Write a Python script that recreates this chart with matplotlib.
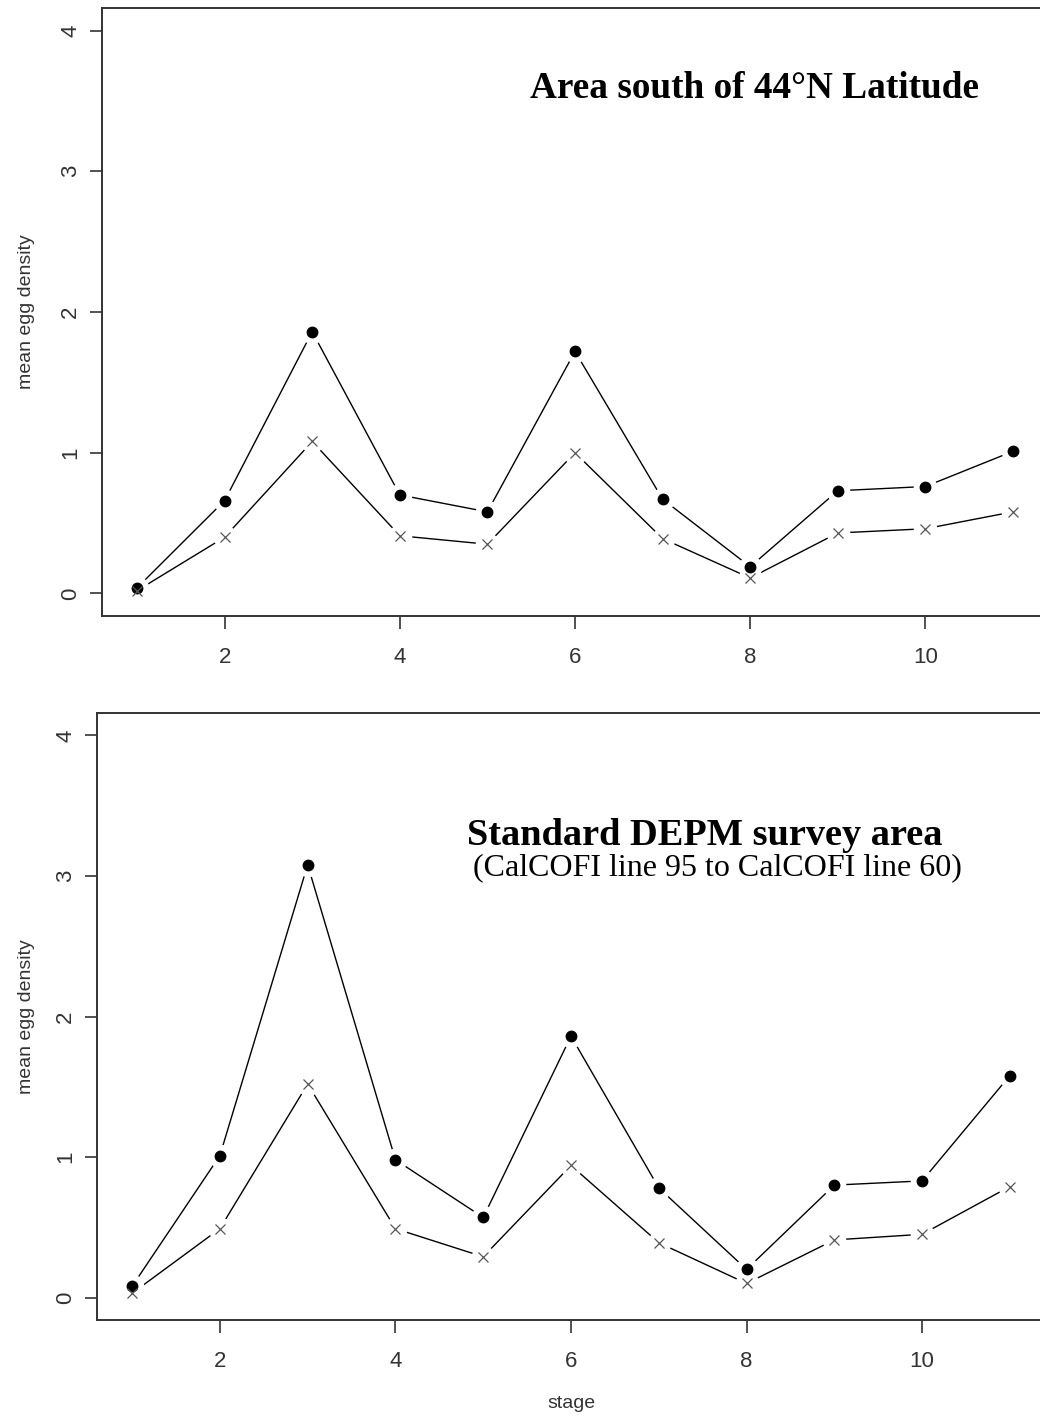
import matplotlib
matplotlib.use("Agg")
import matplotlib.pyplot as plt

stages = [1, 2, 3, 4, 5, 6, 7, 8, 9, 10, 11]
# Top panel: Area south of 44N
north_dots = [0.04, 0.66, 1.86, 0.70, 0.58, 1.72, 0.67, 0.19, 0.73, 0.76, 1.01]
north_x = [0.02, 0.40, 1.08, 0.41, 0.35, 1.00, 0.39, 0.11, 0.43, 0.46, 0.58]
# Bottom panel: Standard DEPM survey area
std_dots = [0.08, 1.01, 3.08, 0.98, 0.57, 1.86, 0.78, 0.20, 0.80, 0.83, 1.58]
std_x = [0.03, 0.49, 1.52, 0.49, 0.29, 0.94, 0.39, 0.10, 0.41, 0.45, 0.79]

xticks = [2, 4, 6, 8, 10]
yticks = [0, 1, 2, 3, 4]

W, H = 1040, 1421
fig = plt.figure(figsize=(W / 100, H / 100), dpi=100)

sans = "Liberation Sans"
serif = "Liberation Serif"
axcol = "#333333"
txtcol = "#333333"


def panel(rect, dots, xs):
    l, t, r, b = rect
    ax = fig.add_axes([l / W, 1 - b / H, (r - l) / W, (b - t) / H])
    ax.plot(stages, dots, color="black", lw=1.0, zorder=2)
    ax.plot(stages, xs, color="black", lw=1.0, zorder=2)
    ax.plot(stages, dots, ls="none", marker="o", ms=17, mfc="white", mec="none", zorder=3)
    ax.plot(stages, xs, ls="none", marker="o", ms=17, mfc="white", mec="none", zorder=3)
    ax.plot(stages, dots, ls="none", marker="o", ms=7.5, mfc="black", mec="black", zorder=4)
    ax.plot(stages, xs, ls="none", marker="x", ms=7, mec="#555555", mew=0.9, zorder=4)
    ax.set_xlim(0.6, 11.4)
    ax.set_ylim(-0.16, 4.16)
    ax.set_xticks(xticks)
    ax.set_yticks(yticks)
    ax.set_xticklabels([str(v) for v in xticks], fontsize=16, family=sans, color=txtcol)
    ax.set_yticklabels([str(v) for v in yticks], fontsize=16, family=sans, color=txtcol,
                       rotation=90, va="center")
    ax.tick_params(axis="x", length=9, width=1.2, color=axcol, pad=13)
    ax.tick_params(axis="y", length=9, width=1.2, color=axcol, pad=6)
    for s in ax.spines.values():
        s.set_linewidth(1.4)
        s.set_color(axcol)
    ax.set_ylabel("mean egg density", fontsize=14, family=sans, color=txtcol)
    ax.yaxis.set_label_coords(-(l - 35) / (r - l), 0.5)
    return ax


ax1 = panel((102, 8, 1048, 616), north_dots, north_x)
ax2 = panel((97, 713, 1045, 1320), std_dots, std_x)
ax2.set_xlabel("stage", fontsize=14, family=sans, color=txtcol)
ax2.xaxis.set_label_coords(0.5, -(1404 - 1320) / (1320 - 713))
ax2.xaxis.label.set_va("center")

fig.text(530 / W, 1 - 88 / H, "Area south of 44\u00b0N Latitude", family=serif,
         fontweight="bold", fontsize=26.8, ha="left", va="center")
fig.text(467 / W, 1 - 835 / H, "Standard DEPM survey area", family=serif,
         fontweight="bold", fontsize=27.6, ha="left", va="center")
fig.text(473 / W, 1 - 868 / H, "(CalCOFI line 95 to CalCOFI line 60)", family=serif,
         fontsize=23, ha="left", va="center")

fig.savefig("out.png", dpi=100)
